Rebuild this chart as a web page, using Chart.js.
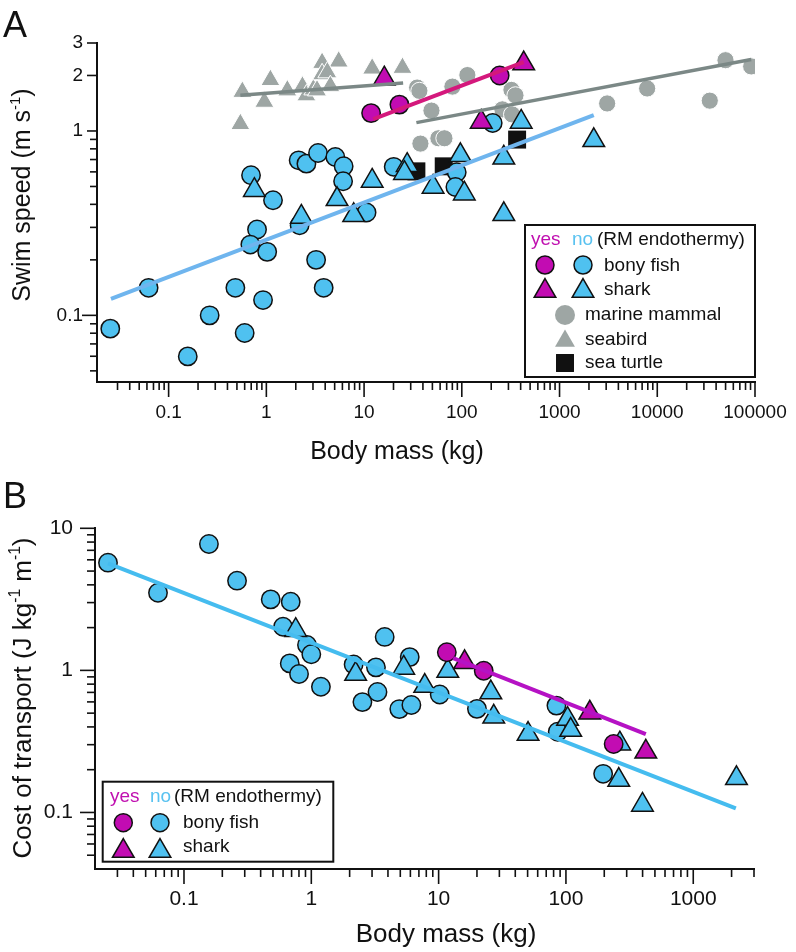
<!DOCTYPE html>
<html>
<head>
<meta charset="utf-8">
<script src="https://cdn.jsdelivr.net/npm/chart.js@4.4.0/dist/chart.umd.min.js"></script>
<style>
  html, body { margin: 0; padding: 0; background: #fff; }
  #wrap { position: relative; width: 796px; height: 952px; }
  canvas { position: absolute; left: 0; }
</style>
</head>
<body>
<div id="wrap">
  <canvas id="chartA" width="796" height="470" style="top:0"></canvas>
  <canvas id="chartB" width="796" height="482" style="top:470px"></canvas>
</div>
<script>
// ---- Panel A : swim speed (m/s) against body mass (kg) ----
const massTicksA = [0.1, 1, 10, 100, 1000, 10000, 100000];
const massLabelsA = ['0.1', '1', '10', '100', '1000', '10000', '100000'];
const speedTicksA = [0.1, 1, 2, 3];
const speedLabelsA = ['0.1', '1', '2', '3'];

// bony fish, no RM endothermy
const fishNoMassA = [0.0253, 0.0624, 0.157, 0.263, 0.482, 0.600, 0.925, 0.697, 1.17, 0.803, 0.686, 1.02, 2.19,
  3.23, 3.86, 2.14, 2.57, 3.38, 5.08, 6.18, 6.10, 20.1, 10.6, 88.7, 86.0, 207];
const fishNoSpeedA = [0.0847, 0.141, 0.0599, 0.100, 0.141, 0.0802, 0.121, 0.575, 0.421, 0.292, 0.242, 0.221, 0.308,
  0.200, 0.141, 0.693, 0.665, 0.760, 0.723, 0.644, 0.534, 0.639, 0.361, 0.597, 0.497, 1.105];
// shark, no
const sharkNoMassA = [0.754, 2.28, 5.29, 7.83, 12.1, 27.6, 25.9, 50.8, 96.7, 106, 269, 269, 405, 2240];
const sharkNoSpeedA = [0.477, 0.342, 0.426, 0.349, 0.536, 0.652, 0.590, 0.497, 0.738, 0.457, 0.715, 0.353, 1.12, 0.890];
// bony fish / shark, yes
const fishYesMassA = [11.8, 23.0, 244];
const fishYesSpeedA = [1.25, 1.39, 2.0];
const sharkYesMassA = [16.1, 158, 430];
const sharkYesSpeedA = [1.92, 1.12, 2.32];
// marine mammals
const mammalMassA = [34.9, 36.8, 48.9, 80.1, 114, 37.7, 57.6, 66.4, 322, 354, 260, 327, 3070, 7880, 34460, 49890, 91450];
const mammalSpeedA = [1.72, 1.65, 1.29, 1.74, 2.01, 0.854, 0.913, 0.913, 1.67, 1.56, 1.31, 1.23, 1.41, 1.70, 1.46, 2.42, 2.24];
// seabirds
const birdMassA = [0.542, 0.568, 1.10, 0.954, 1.64, 2.34, 2.57, 3.03, 3.72, 5.50, 3.72, 4.21, 4.52, 3.30, 12.1, 24.7];
const birdSpeedA = [1.09, 1.63, 1.89, 1.44, 1.66, 1.74, 1.56, 1.68, 2.34, 2.38, 2.03, 2.08, 1.75, 1.66, 2.18, 2.20];
// sea turtles
const turtleMassA = [34.3, 65.3, 368];
const turtleSpeedA = [0.604, 0.643, 0.898];
// fitted lines (end points)
const fitNoMassA = [0.0257, 2240], fitNoSpeedA = [0.123, 1.22];
const fitYesMassA = [12.4, 430], fitYesSpeedA = [1.16, 2.36];
const fitMammalMassA = [34.3, 91400], fitMammalSpeedA = [1.11, 2.44];
const fitBirdMassA = [0.542, 25.1], fitBirdSpeedA = [1.56, 1.82];

// ---- Panel B : cost of transport against body mass ----
const massTicksB = [0.1, 1, 10, 100, 1000];
const massLabelsB = ['0.1', '1', '10', '100', '1000'];
const cotTicksB = [0.1, 1, 10];
const cotLabelsB = ['0.1', '1', '10'];

const fishNoMassB = [0.0253, 0.0625, 0.157, 0.261, 0.480, 0.689, 0.600, 0.925, 1.00, 0.677, 0.801, 1.19, 2.15,
  3.22, 3.77, 3.31, 2.52, 4.91, 5.93, 6.11, 10.2, 20.0, 84.2, 86.2, 196];
const fishNoCotB = [5.73, 3.52, 7.75, 4.28, 3.16, 3.04, 2.03, 1.51, 1.30, 1.12, 0.942, 0.767, 1.10,
  1.05, 1.72, 0.704, 0.598, 0.534, 1.24, 0.570, 0.676, 0.536, 0.565, 0.370, 0.187];
const sharkNoMassB = [0.754, 2.23, 5.32, 7.78, 11.8, 25.7, 27.1, 50.4, 103, 109, 265, 260, 399, 2185];
const sharkNoCotB = [1.92, 0.942, 1.04, 0.775, 0.989, 0.698, 0.471, 0.356, 0.454, 0.380, 0.305, 0.169, 0.113, 0.174];
const fishYesMassB = [11.6, 22.6, 237];
const fishYesCotB = [1.34, 0.994, 0.303];
const sharkYesMassB = [16.0, 154, 424];
const sharkYesCotB = [1.14, 0.503, 0.267];
const fitNoMassB = [0.0253, 2160], fitNoCotB = [5.67, 0.107];
const fitYesMassB = [13.0, 424], fitYesCotB = [1.22, 0.356];

// ---- styling ----
const BLACK = '#111111';
const BLUE = '#4fc1f0';
const MAGENTA = '#c20cb2';
const GREY = '#9ea6a4';
const GREY_LINE = '#7b8886';
const FONT = "'Liberation Sans', Arial, Helvetica, sans-serif";

const pts = (xs, ys) => xs.map((x, i) => ({ x: x, y: ys[i] }));

function markerSet(label, xs, ys, style, fill, line, radius, lw, order) {
  return {
    label: label, data: pts(xs, ys), order: order, showLine: false,
    pointStyle: style, pointRadius: radius, pointHoverRadius: radius,
    backgroundColor: fill, borderColor: line, borderWidth: lw
  };
}

function fitLine(label, xs, ys, color, width, order) {
  return {
    label: label, data: pts(xs, ys), order: order, showLine: true, fill: false,
    borderColor: color, borderWidth: width, pointRadius: 0, pointHoverRadius: 0
  };
}

function minorTicks(lo, hi, skip) {
  const out = [];
  for (let e = -3; e <= 5; e++) {
    for (let k = 2; k <= 9; k++) {
      const v = Number((k * Math.pow(10, e)).toPrecision(2));
      if (v >= lo * 0.999 && v <= hi * 1.001 && !skip.some(s => Math.abs(s - v) < v * 1e-6)) out.push(v);
    }
  }
  return out;
}

function tickIndex(v, ticks) {
  return ticks.findIndex(t => Math.abs(Math.log10(t) - Math.log10(v)) < 1e-6);
}

function logAxis(o) {
  return {
    type: 'logarithmic', position: o.position, min: o.min, max: o.max,
    grid: { display: false, drawTicks: false },
    border: { display: true, color: BLACK, width: 2 },
    afterBuildTicks: function (scale) {
      scale.ticks = o.ticks.concat(o.minor).sort((a, b) => a - b).map(v => ({ value: v }));
    },
    afterFit: function (scale) {
      if (o.position === 'left') scale.width = o.size; else scale.height = o.size;
      // keep the plot area where the layout padding puts it
      scale.paddingLeft = scale.paddingRight = scale.paddingTop = scale.paddingBottom = 0;
    },
    ticks: {
      autoSkip: false, maxRotation: 0, minRotation: 0, padding: o.padding, color: BLACK,
      font: { family: FONT, size: o.font },
      callback: function (v) {
        const i = tickIndex(v, o.ticks);
        return i < 0 ? '' : o.labels[i];
      }
    }
  };
}

function drawMark(ctx, m) {
  ctx.save();
  ctx.fillStyle = m.fill;
  ctx.strokeStyle = BLACK;
  ctx.lineWidth = m.lw;
  ctx.beginPath();
  if (m.style === 'circle') {
    ctx.arc(m.x, m.y, m.r, 0, Math.PI * 2);
  } else if (m.style === 'triangle') {
    for (let k = 0; k < 3; k++) {
      const a = k * 2 * Math.PI / 3;
      const px = m.x + Math.sin(a) * m.r, py = m.y - Math.cos(a) * m.r;
      if (k === 0) ctx.moveTo(px, py); else ctx.lineTo(px, py);
    }
    ctx.closePath();
  } else {
    const s = Math.SQRT1_2 * m.r;
    ctx.rect(m.x - s, m.y - s, 2 * s, 2 * s);
  }
  ctx.fill();
  if (m.lw > 0) ctx.stroke();
  ctx.restore();
}

function richText(ctx, parts, size, cx, cy, rotate) {
  ctx.save();
  ctx.translate(cx, cy);
  if (rotate) ctx.rotate(-Math.PI / 2);
  ctx.textAlign = 'left';
  ctx.textBaseline = 'alphabetic';
  ctx.fillStyle = BLACK;
  const widths = parts.map(p => {
    ctx.font = (p.sup ? size * 0.6 : size) + 'px ' + FONT;
    return ctx.measureText(p.t).width;
  });
  let x = -widths.reduce((a, b) => a + b, 0) / 2;
  parts.forEach((p, i) => {
    ctx.font = (p.sup ? size * 0.6 : size) + 'px ' + FONT;
    ctx.fillText(p.t, x, p.sup ? -size * 0.42 : 0);
    x += widths[i];
  });
  ctx.restore();
}

// ticks, axis titles, legend box and panel letter
const decor = {
  id: 'decor',
  afterDraw: function (chart, args, o) {
    const ctx = chart.ctx, area = chart.chartArea;
    ctx.save();
    ctx.strokeStyle = BLACK;
    ctx.lineWidth = 1.6;
    ['x', 'y'].forEach(function (id) {
      const s = chart.scales[id], t = o.tickLen[id];
      s.ticks.forEach(function (tk) {
        const i = tickIndex(tk.value, t.values);
        const len = i < 0 ? t.minor : t.major[i];
        const p = s.getPixelForValue(tk.value);
        ctx.beginPath();
        if (id === 'x') { ctx.moveTo(p, area.bottom); ctx.lineTo(p, area.bottom + len); }
        else { ctx.moveTo(area.left, p); ctx.lineTo(area.left - len, p); }
        ctx.stroke();
      });
    });
    ctx.restore();

    o.titles.forEach(t => richText(ctx, t.parts, t.size, t.x, t.y, t.rotate));

    ctx.save();
    ctx.fillStyle = BLACK;
    ctx.font = '36px ' + FONT;
    ctx.textBaseline = 'alphabetic';
    ctx.fillText(o.letter.text, o.letter.x, o.letter.y);
    ctx.restore();

    const L = o.legend;
    ctx.save();
    ctx.fillStyle = '#ffffff';
    ctx.fillRect(L.box[0], L.box[1], L.box[2], L.box[3]);
    ctx.strokeStyle = BLACK;
    ctx.lineWidth = 2;
    ctx.strokeRect(L.box[0], L.box[1], L.box[2], L.box[3]);
    ctx.font = L.font + 'px ' + FONT;
    ctx.textBaseline = 'middle';
    ctx.textAlign = 'left';
    L.texts.forEach(t => { ctx.fillStyle = t.color; ctx.fillText(t.text, t.x, t.y); });
    ctx.restore();
    L.marks.forEach(m => drawMark(ctx, m));
  }
};

function baseOptions(padding, scales, decorOpts) {
  return {
    responsive: false, animation: false, devicePixelRatio: 1,
    layout: { padding: padding },
    scales: scales,
    plugins: { legend: { display: false }, tooltip: { enabled: false }, decor: decorOpts }
  };
}

// ---------- chart A ----------
new Chart(document.getElementById('chartA'), {
  type: 'scatter',
  data: {
    datasets: [
      fitLine('fit yes', fitYesMassA, fitYesSpeedA, '#d4187c', 4, 0),
      fitLine('fit no', fitNoMassA, fitNoSpeedA, '#6fb5ee', 4, 1),
      fitLine('fit mammal', fitMammalMassA, fitMammalSpeedA, GREY_LINE, 3.5, 2),
      fitLine('fit seabird', fitBirdMassA, fitBirdSpeedA, GREY_LINE, 3.5, 3),
      markerSet('shark yes', sharkYesMassA, sharkYesSpeedA, 'triangle', MAGENTA, BLACK, 12.5, 1.5, 4),
      markerSet('bony fish yes', fishYesMassA, fishYesSpeedA, 'circle', MAGENTA, BLACK, 9.2, 1.5, 5),
      markerSet('shark no', sharkNoMassA, sharkNoSpeedA, 'triangle', BLUE, BLACK, 12.5, 1.5, 6),
      markerSet('bony fish no', fishNoMassA, fishNoSpeedA, 'circle', BLUE, BLACK, 9.2, 1.5, 7),
      markerSet('sea turtle', turtleMassA, turtleSpeedA, 'rect', BLACK, BLACK, 12.7, 0, 8),
      markerSet('seabird', birdMassA, birdSpeedA, 'triangle', GREY, '#ffffff', 11, 1, 9),
      markerSet('marine mammal', mammalMassA, mammalSpeedA, 'circle', GREY, '#ffffff', 8.6, 1, 10)
    ]
  },
  options: baseOptions(
    { left: 0, top: 43, right: 41, bottom: 0 },
    {
      x: logAxis({ position: 'bottom', min: 0.0185, max: 100000, ticks: massTicksA, labels: massLabelsA,
        minor: minorTicks(0.03, 90000, massTicksA), size: 88, padding: 19, font: 19 }),
      y: logAxis({ position: 'left', min: 0.0435, max: 3, ticks: speedTicksA, labels: speedLabelsA,
        minor: minorTicks(0.05, 0.9, speedTicksA), size: 97, padding: 14, font: 19 })
    },
    {
      tickLen: {
        x: { values: massTicksA, major: [15, 15, 15, 15, 15, 15, 15], minor: 8 },
        y: { values: speedTicksA, major: [15, 10, 10, 10], minor: 7 }
      },
      titles: [
        { parts: [{ t: 'Body mass (kg)' }], size: 25, x: 397, y: 459, rotate: false },
        { parts: [{ t: 'Swim speed (m s' }, { t: '-1', sup: true }, { t: ')' }], size: 25, x: 30, y: 195, rotate: true }
      ],
      letter: { text: 'A', x: 3, y: 37 },
      legend: {
        box: [525, 225, 230, 152], font: 19,
        texts: [
          { text: 'yes', x: 531, y: 240, color: '#c010b0' },
          { text: 'no', x: 572, y: 240, color: '#59c2f0' },
          { text: '(RM endothermy)', x: 597, y: 240, color: BLACK },
          { text: 'bony fish', x: 604, y: 266, color: BLACK },
          { text: 'shark', x: 604, y: 290, color: BLACK },
          { text: 'marine mammal', x: 585, y: 315, color: BLACK },
          { text: 'seabird', x: 585, y: 340, color: BLACK },
          { text: 'sea turtle', x: 585, y: 363, color: BLACK }
        ],
        marks: [
          { style: 'circle', x: 545, y: 265, r: 9, fill: MAGENTA, lw: 1.5 },
          { style: 'circle', x: 583, y: 265, r: 9, fill: BLUE, lw: 1.5 },
          { style: 'triangle', x: 545, y: 291, r: 12.5, fill: MAGENTA, lw: 1.5 },
          { style: 'triangle', x: 583, y: 291, r: 12.5, fill: BLUE, lw: 1.5 },
          { style: 'circle', x: 565, y: 315, r: 10, fill: GREY, lw: 0 },
          { style: 'triangle', x: 565, y: 341, r: 11.5, fill: GREY, lw: 0 },
          { style: 'rect', x: 565, y: 363, r: 12.7, fill: BLACK, lw: 0 }
        ]
      }
    }
  ),
  plugins: [decor]
});

// ---------- chart B ----------
new Chart(document.getElementById('chartB'), {
  type: 'scatter',
  data: {
    datasets: [
      fitLine('fit yes', fitYesMassB, fitYesCotB, '#b512c4', 4, 0),
      fitLine('fit no', fitNoMassB, fitNoCotB, '#45bcef', 4, 1),
      markerSet('shark yes', sharkYesMassB, sharkYesCotB, 'triangle', MAGENTA, BLACK, 12.5, 1.5, 4),
      markerSet('bony fish yes', fishYesMassB, fishYesCotB, 'circle', MAGENTA, BLACK, 9.2, 1.5, 5),
      markerSet('shark no', sharkNoMassB, sharkNoCotB, 'triangle', BLUE, BLACK, 12.5, 1.5, 6),
      markerSet('bony fish no', fishNoMassB, fishNoCotB, 'circle', BLUE, BLACK, 9.2, 1.5, 7)
    ]
  },
  options: baseOptions(
    { left: 0, top: 58.3, right: 42, bottom: 0 },
    {
      x: logAxis({ position: 'bottom', min: 0.02, max: 3000, ticks: massTicksB, labels: massLabelsB,
        minor: minorTicks(0.03, 3000, massTicksB), size: 83, padding: 18, font: 21 }),
      y: logAxis({ position: 'left', min: 0.04, max: 10, ticks: cotTicksB, labels: cotLabelsB,
        minor: minorTicks(0.05, 9, cotTicksB), size: 95, padding: 22, font: 21 })
    },
    {
      tickLen: {
        x: { values: massTicksB, major: [15, 15, 15, 15, 15], minor: 8 },
        y: { values: cotTicksB, major: [15, 15, 15], minor: 8 }
      },
      titles: [
        { parts: [{ t: 'Body mass (kg)' }], size: 26, x: 446, y: 472, rotate: false },
        { parts: [{ t: 'Cost of transport (J kg' }, { t: '-1', sup: true }, { t: ' m' }, { t: '-1', sup: true }, { t: ')' }],
          size: 26, x: 31, y: 228, rotate: true }
      ],
      letter: { text: 'B', x: 3, y: 38 },
      legend: {
        box: [102.7, 311.7, 230.6, 80], font: 19,
        texts: [
          { text: 'yes', x: 110, y: 327, color: '#c010b0' },
          { text: 'no', x: 150, y: 327, color: '#59c2f0' },
          { text: '(RM endothermy)', x: 174, y: 327, color: BLACK },
          { text: 'bony fish', x: 183, y: 353, color: BLACK },
          { text: 'shark', x: 183, y: 377, color: BLACK }
        ],
        marks: [
          { style: 'circle', x: 123.3, y: 352.7, r: 9, fill: MAGENTA, lw: 1.5 },
          { style: 'circle', x: 160, y: 352.7, r: 9, fill: BLUE, lw: 1.5 },
          { style: 'triangle', x: 123.3, y: 381, r: 12.5, fill: MAGENTA, lw: 1.5 },
          { style: 'triangle', x: 160, y: 381, r: 12.5, fill: BLUE, lw: 1.5 }
        ]
      }
    }
  ),
  plugins: [decor]
});
</script>
</body>
</html>
